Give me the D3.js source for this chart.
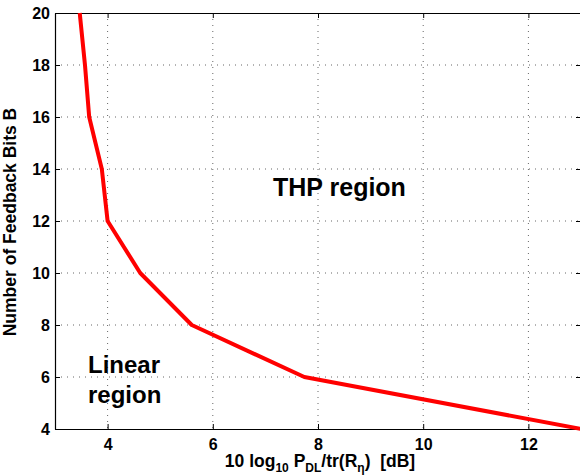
<!DOCTYPE html>
<html>
<head>
<meta charset="utf-8">
<script src="https://cdn.jsdelivr.net/npm/d3@7"></script>
<style>
  body { margin: 0; background: #fff; }
  svg { display: block; font-family: "Liberation Sans", Arial, sans-serif; font-weight: bold; }
</style>
</head>
<body>
<div class="container"></div>
<script>
// boundary between linear and THP regions
const bits = [20, 18, 16, 14, 12, 10, 8, 6, 4]
const power = [3.47, 3.57, 3.65, 3.89, 4.0, 4.62, 5.6, 7.74, 13.0]

const xTicks = [4, 6, 8, 10, 12]
const yTicks = [4, 6, 8, 10, 12, 14, 16, 18, 20]

const w = 580
const h = 476
const padL = 55, padR = 581, padT = 13, padB = 429

const svg = d3.select('.container')
  .append('svg')
  .attr('width', w)
  .attr('height', h)

const xScale = d3.scaleLinear().domain([3, 13]).range([padL, padR])
const yScale = d3.scaleLinear().domain([4, 20]).range([padB, padT])

// grid
const grid = svg.append('g').attr('class', 'grid')
grid.selectAll('line.gx')
  .data(xTicks)
  .enter()
  .append('line')
  .attr('x1', d => xScale(d)).attr('x2', d => xScale(d))
  .attr('y1', padT).attr('y2', padB)
grid.selectAll('line.gy')
  .data(yTicks.slice(1, -1))
  .enter()
  .append('line')
  .attr('y1', d => yScale(d)).attr('y2', d => yScale(d))
  .attr('x1', padL).attr('x2', padR)
grid.selectAll('line')
  .attr('stroke', '#666')
  .attr('stroke-width', 1)
  .attr('stroke-dasharray', '1,5')

// axes, MATLAB style: inward ticks on all four sides
const xAxis = d3.axisBottom(xScale).tickValues(xTicks).tickSizeInner(-5).tickSizeOuter(0)
const xAxisTop = d3.axisTop(xScale).tickValues(xTicks).tickSizeInner(-5).tickSizeOuter(0).tickFormat('')
const yAxis = d3.axisLeft(yScale).tickValues(yTicks).tickSizeInner(-5).tickSizeOuter(0)
const yAxisRight = d3.axisRight(yScale).tickValues(yTicks).tickSizeInner(-5).tickSizeOuter(0).tickFormat('')

svg.append('g').attr('id', 'x-axis').attr('transform', 'translate(0,' + padB + ')').call(xAxis)
svg.append('g').attr('transform', 'translate(0,' + padT + ')').call(xAxisTop)
svg.append('g').attr('id', 'y-axis').attr('transform', 'translate(' + padL + ',0)').call(yAxis)
svg.append('g').attr('transform', 'translate(' + padR + ',0)').call(yAxisRight)

svg.selectAll('.domain').attr('stroke', '#000').attr('stroke-width', 1.2)
svg.selectAll('.tick line').attr('stroke', '#000')
svg.selectAll('.tick text')
  .attr('fill', '#000')
  .style('font-size', '16px')
  .style('font-family', '"Liberation Sans", Arial, sans-serif')
  .style('font-weight', 'bold')
svg.select('#x-axis').selectAll('.tick text').attr('dy', '0.71em').attr('y', 10)
svg.select('#y-axis').selectAll('.tick text').attr('x', -5)

// the curve
const line = d3.line()
  .x((d, i) => xScale(power[i]))
  .y(d => yScale(d))

svg.append('path')
  .datum(bits)
  .attr('d', line)
  .attr('fill', 'none')
  .attr('stroke', '#ff0000')
  .attr('stroke-width', 4)
  .attr('stroke-linejoin', 'round')

// region labels
svg.append('text')
  .attr('x', 273).attr('y', 196)
  .style('font-size', '25px')
  .text('THP region')

const lin = svg.append('text')
  .attr('x', 88).attr('y', 373)
  .style('font-size', '24px')
lin.append('tspan').attr('x', 88).text('Linear')
lin.append('tspan').attr('x', 88).attr('dy', 30).text('region')

// axis labels
svg.append('text')
  .attr('transform', 'translate(16,' + ((padT + padB) / 2 + 1) + ') rotate(-90)')
  .attr('text-anchor', 'middle')
  .style('font-size', '17.5px')
  .text('Number of Feedback Bits B')

const xl = svg.append('text')
  .attr('x', 320).attr('y', 467)
  .attr('text-anchor', 'middle')
  .style('font-size', '17.5px')
xl.append('tspan').text('10 log')
xl.append('tspan').attr('dy', 5).style('font-size', '12px').text('10')
xl.append('tspan').attr('dy', -5).text(' P')
xl.append('tspan').attr('dy', 5).style('font-size', '12px').text('DL')
xl.append('tspan').attr('dy', -5).text('/tr(R')
xl.append('tspan').attr('dy', 5).style('font-size', '12px').text('η')
xl.append('tspan').attr('dy', -5).text(')\u00a0\u00a0[dB]')
</script>
</body>
</html>
